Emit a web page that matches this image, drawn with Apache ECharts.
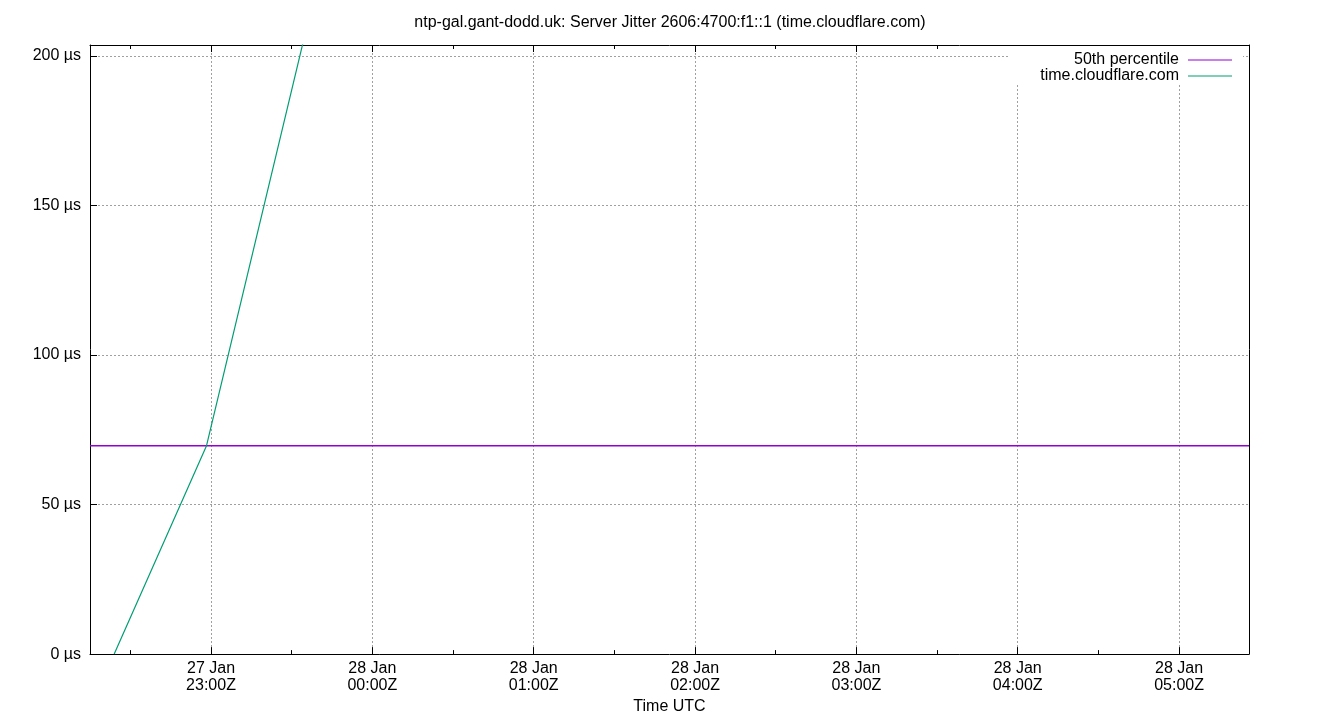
<!DOCTYPE html>
<html>
<head>
<meta charset="utf-8">
<script src="https://cdn.jsdelivr.net/npm/echarts@6/dist/echarts.min.js"></script>
<style>
html,body{margin:0;padding:0;background:#fff;}
#chart{width:1340px;height:720px;}
</style>
</head>
<body>
<div id="chart"></div>
<script>
const titleText = 'ntp-gal.gant-dodd.uk: Server Jitter 2606:4700:f1::1 (time.cloudflare.com)';
const seriesNames = ['50th percentile', 'time.cloudflare.com'];
// jitter samples for time.cloudflare.com (µs)
const jitterTimes = ['2025-01-27T22:24:00Z', '2025-01-27T22:58:20Z', '2025-01-27T23:45:00Z'];
const jitterValues = [0, 69.7, 245];
// 50th percentile (µs)
const p50Value = 69.7;
// axis range and ticks
const xStart = '2025-01-27T22:15:00Z';
const xEnd = '2025-01-28T05:26:00Z';
const majorTickTimes = ['2025-01-27T23:00:00Z','2025-01-28T00:00:00Z','2025-01-28T01:00:00Z','2025-01-28T02:00:00Z','2025-01-28T03:00:00Z','2025-01-28T04:00:00Z','2025-01-28T05:00:00Z'];
const minorTickTimes = ['2025-01-27T22:30:00Z','2025-01-27T23:30:00Z','2025-01-28T00:30:00Z','2025-01-28T01:30:00Z','2025-01-28T02:30:00Z','2025-01-28T03:30:00Z','2025-01-28T04:30:00Z'];
const yTicks = [0, 50, 100, 150, 200];
const yMax = 203.7;

const ms = s => Date.parse(s);
const xMin = ms(xStart), xMax = ms(xEnd);
const majors = majorTickTimes.map(ms);
const minors = minorTickTimes.map(ms);
const MONTHS = ['Jan','Feb','Mar','Apr','May','Jun','Jul','Aug','Sep','Oct','Nov','Dec'];
const pad = n => (n < 10 ? '0' : '') + n;
const fmtX = v => { const d = new Date(v); return d.getUTCDate() + ' ' + MONTHS[d.getUTCMonth()] + '\n' + pad(d.getUTCHours()) + ':' + pad(d.getUTCMinutes()) + 'Z'; };

const FONT = 'Liberation Sans';
const gridLine = { show: true, lineStyle: { color: '#a0a0a0', width: 1, type: [2, 2] } };
const baseX = { type: 'value', min: xMin, max: xMax, interval: 900000, gridIndex: 0 };

const chart = echarts.init(document.getElementById('chart'), null, { renderer: 'canvas' });
chart.setOption({
  animation: false,
  backgroundColor: '#fff',
  textStyle: { fontFamily: FONT },
  title: { text: titleText, left: 'center', top: 10, textStyle: { fontFamily: FONT, fontSize: 16, fontWeight: 'normal', color: '#000' } },
  grid: { left: 90, right: 91, top: 45, bottom: 64, containLabel: false },
  legend: {
    orient: 'vertical', right: 97, top: 46, align: 'right',
    backgroundColor: '#fff', padding: [6, 11, 1, 31], itemGap: 0,
    icon: 'rect', itemWidth: 44, itemHeight: 1,
    textStyle: { fontFamily: FONT, fontSize: 16, color: '#000', lineHeight: 15, padding: [0, 4, 0, 0] },
    data: seriesNames
  },
  xAxis: [
    Object.assign({}, baseX, {
      position: 'bottom',
      axisLine: { show: true, onZero: false, lineStyle: { color: '#000', width: 1 } },
      axisTick: { show: true, inside: true, length: 7, customValues: majors, lineStyle: { color: '#000' } },
      axisLabel: { show: true, customValues: majors, formatter: fmtX, fontFamily: FONT, fontSize: 16, color: '#000', lineHeight: 17, margin: 6 },
      splitLine: gridLine,
      name: 'Time UTC', nameLocation: 'middle', nameGap: 42,
      nameTextStyle: { fontFamily: FONT, fontSize: 16, color: '#000' }
    }),
    Object.assign({}, baseX, {
      position: 'bottom',
      axisLine: { show: false, onZero: false },
      axisTick: { show: true, inside: true, length: 4, customValues: minors, lineStyle: { color: '#000' } },
      axisLabel: { show: false }, splitLine: { show: false }
    }),
    Object.assign({}, baseX, {
      position: 'top',
      axisLine: { show: true, onZero: false, lineStyle: { color: '#000', width: 1 } },
      axisTick: { show: true, inside: true, length: 7, customValues: majors, lineStyle: { color: '#000' } },
      axisLabel: { show: false }, splitLine: { show: false }
    }),
    Object.assign({}, baseX, {
      position: 'top',
      axisLine: { show: false, onZero: false },
      axisTick: { show: true, inside: true, length: 4, customValues: minors, lineStyle: { color: '#000' } },
      axisLabel: { show: false }, splitLine: { show: false }
    })
  ],
  yAxis: [
    {
      type: 'value', min: 0, max: yMax, interval: 50, position: 'left',
      axisLine: { show: true, onZero: false, lineStyle: { color: '#000', width: 1 } },
      axisTick: { show: true, inside: true, length: 7, customValues: yTicks, lineStyle: { color: '#000' } },
      axisLabel: { show: true, customValues: yTicks, formatter: v => v + ' µs', fontFamily: FONT, fontSize: 16, color: '#000', margin: 9 },
      splitLine: gridLine
    },
    {
      type: 'value', min: 0, max: yMax, interval: 50, position: 'right',
      axisLine: { show: true, onZero: false, lineStyle: { color: '#000', width: 1 } },
      axisTick: { show: false }, axisLabel: { show: false }, splitLine: { show: false }
    }
  ],
  series: [
    {
      name: seriesNames[0], type: 'line', xAxisIndex: 0, yAxisIndex: 0,
      symbol: 'none', clip: true,
      lineStyle: { color: '#9400d3', width: 1.5 }, itemStyle: { color: '#9400d3' },
      data: [[xMin, p50Value], [xMax, p50Value]]
    },
    {
      name: seriesNames[1], type: 'line', xAxisIndex: 0, yAxisIndex: 0,
      symbol: 'none', clip: true,
      lineStyle: { color: '#009e73', width: 1.2 }, itemStyle: { color: '#009e73' },
      data: jitterTimes.map((t, i) => [ms(t), jitterValues[i]])
    }
  ]
});
</script>
</body>
</html>
